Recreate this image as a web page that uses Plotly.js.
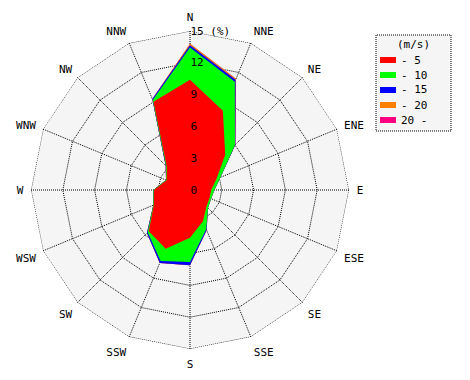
<!DOCTYPE html>
<html><head><meta charset="utf-8">
<script src="https://cdn.plot.ly/plotly-3.0.1.min.js"></script>
<style>html,body{margin:0;padding:0;background:#fff}</style>
</head><body><div id="chart" style="width:470px;height:380px"></div>
<script>
const directions = ['N','NNE','NE','ENE','E','ESE','SE','SSE','S','SSW','SW','WSW','W','WNW','NW','NNW'];
const speedClasses = ['- 5','- 10','- 15','- 20','20 -'];
const classColors = ['#ff0000','#00ff00','#0000ff','#ff8000','#ff0080'];
// frequency (%) of each speed class, per direction (N, NNE, ... NNW)
const freqTo5   = [10.4, 8.1, 4.7, 2.7, 2.0, 2.0, 2.2, 3.2, 4.5, 6.0, 5.5, 3.7, 3.4, 2.4, 3.1, 9.0];
const freqTo10  = [3.05, 2.95, 1.3, 0.4, 0.3, 0.15, 0.2, 0.8, 2.3, 1.25, 0.15, 0.05, 0.05, 0.05, 0.1, 0.2];
const freqTo15  = [0.2, 0.2, 0.05, 0, 0, 0, 0, 0.1, 0.3, 0.2, 0.1, 0, 0, 0, 0.05, 0.1];
const freqTo20  = [0.15, 0.1, 0, 0, 0, 0, 0, 0, 0, 0, 0, 0, 0, 0, 0, 0];
const freqOver20= [0, 0, 0, 0, 0, 0, 0, 0, 0, 0, 0, 0, 0, 0, 0, 0];
const radialTicks = [0,3,6,9,12,15];
const radialTickText = ['0','3','6','9','12','15 (%)'];
const legendTitle = '(m/s)';

const classes = [freqTo5, freqTo10, freqTo15, freqTo20, freqOver20];
let run = new Array(directions.length).fill(0);
const cums = classes.map(c => { run = run.map((v,i)=>v+c[i]); return run.slice(); });

const FONT = 'DejaVu Sans Mono, monospace';
const DOT = '1px,1px';
const RMAX = radialTicks[radialTicks.length-1];
const traces = [];
for (let k = classes.length-1; k >= 0; k--) {
  traces.push({
    type:'scatterpolar',
    r: cums[k].concat([cums[k][0]]),
    theta: directions.concat([directions[0]]),
    mode:'lines', fill:'toself', fillcolor: classColors[k],
    line:{color: classColors[k], width:0},
    name: speedClasses[k], showlegend:false, hoverinfo:'skip'
  });
}
// dotted outer frame at the maximum radial tick
traces.push({
  type:'scatterpolar',
  r: directions.map(() => RMAX).concat([RMAX]),
  theta: directions.concat([directions[0]]),
  mode:'lines', line:{color:'#000', width:1, dash:DOT},
  showlegend:false, hoverinfo:'skip', cliponaxis:false
});

// manual legend
const shapes = [{type:'rect', xref:'paper', yref:'paper', x0:376/470, x1:451/470, y0:1-131/380, y1:1-35/380,
  line:{color:'#000', width:1, dash:DOT}, fillcolor:'#f5f5f5', layer:'below'}];
const annotations = [{xref:'paper', yref:'paper', x:413/470, y:1-44/380, text:legendTitle, showarrow:false,
  xanchor:'center', yanchor:'middle', font:{family:FONT, size:11, color:'#000'}}];
speedClasses.forEach((lab,i) => {
  const yc = 60 + i*15;
  shapes.push({type:'rect', xref:'paper', yref:'paper', x0:380/470, x1:396/470, y0:1-(yc+3)/380, y1:1-(yc-3)/380,
    line:{width:0}, fillcolor:classColors[i]});
  annotations.push({xref:'paper', yref:'paper', x:399/470, y:1-yc/380, text:lab, showarrow:false,
    xanchor:'left', yanchor:'middle', font:{family:FONT, size:11, color:'#000'}});
});

const half = 159;
const layout = {
  width:470, height:380, margin:{l:0,r:0,t:0,b:0},
  paper_bgcolor:'#fff', showlegend:false,
  font:{family:FONT, size:11, color:'#000'},
  polar:{
    domain:{x:[(190-half)/470, (190+half)/470], y:[(190-half)/380, (190+half)/380]},
    bgcolor:'#f5f5f5', gridshape:'linear',
    radialaxis:{range:[0,RMAX], tickmode:'array', tickvals:radialTicks, ticktext:radialTickText,
      angle:90, tickangle:90, side:'clockwise', showline:false, ticks:'', showgrid:true,
      gridcolor:'#000', griddash:DOT, gridwidth:1, layer:'above traces',
      tickfont:{family:FONT, size:11, color:'#000'}},
    angularaxis:{type:'category', categoryarray:directions, categoryorder:'array',
      direction:'clockwise', rotation:90, showline:true, linecolor:'rgba(0,0,0,0)',
      ticks:'outside', ticklen:5, tickcolor:'rgba(0,0,0,0)',
      gridcolor:'#000', griddash:DOT, gridwidth:1, layer:'above traces',
      tickfont:{family:FONT, size:11, color:'#000'}}
  },
  shapes:shapes, annotations:annotations
};
Plotly.newPlot('chart', traces, layout, {staticPlot:true, displayModeBar:false});
</script></body></html>
